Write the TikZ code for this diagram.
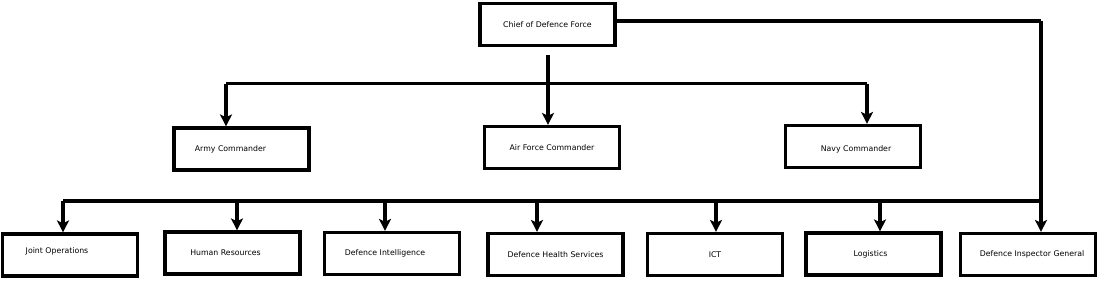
\documentclass[tikz,border=0pt]{standalone}
\usepackage{fontspec}
\setmainfont{DejaVu Sans}
\usetikzlibrary{arrows.meta}
\begin{document}
\begin{tikzpicture}[x=1pt,y=-1pt,
  box/.style={draw, line width=3.2pt, minimum width=135pt, minimum height=42pt, inner sep=0pt},
  lbl/.style={font=\fontsize{7.8}{9}\selectfont},
  conn/.style={line width=3.2pt},
  arr/.style={conn, -{Stealth[length=12pt,width=12pt,inset=3pt]}}]
\useasboundingbox (0,0) rectangle (1100,281);
% top level
\node[box, label={[lbl]center:Chief of Defence Force}] (chief) at (547.5,24.5) {};
% commanders
\node[box, label={[lbl,xshift=-11pt]center:Army Commander}] (army) at (241.5,149) {};
\node[box, label={[lbl]center:Air Force Commander}] (air) at (552,147.5) {};
\node[box, label={[lbl,xshift=3pt,yshift=-3pt]center:Navy Commander}] (navy) at (853,146.5) {};
% bottom row
\node[box, label={[lbl,xshift=-13pt,yshift=4pt]center:Joint Operations}] (jo) at (70,255) {};
\node[box, label={[lbl,xshift=-7pt]center:Human Resources}] (hr) at (232.5,253) {};
\node[box, label={[lbl,xshift=-7pt]center:Defence Intelligence}] (di) at (392,253.5) {};
\node[box, label={[lbl]center:Defence Health Services}] (dh) at (555.5,254.5) {};
\node[box, label={[lbl]center:ICT}] (ict) at (715,254.5) {};
\node[box, label={[lbl,xshift=-3pt]center:Logistics}] (log) at (873.5,254) {};
\node[box, label={[lbl,xshift=4pt]center:Defence Inspector General}] (dig) at (1028,254.5) {};
% coordinates for bus lines
\coordinate (stem) at (548,55);
\coordinate (busA) at (226,83.5);
\coordinate (busN) at (867,83.5);
\coordinate (corner) at (1041,21);
\coordinate (busB) at (63,201);
\coordinate (busE) at (1041,201);
% chief to commanders
\draw[arr] (stem) -- (air.north -| stem);
\draw[conn] (busA) -- (busN);
\draw[arr] (busA) -- (army.north -| busA);
\draw[arr] (busN) -- (navy.north -| busN);
% chief to inspector general and bottom bus
\draw[conn] (chief.east |- corner) -- (corner);
\draw[arr] (corner) -- (dig.north -| corner);
\draw[conn] (busB) -- (busE);
\draw[arr] (busB) -- (jo.north -| busB);
\draw[arr] (237,201) -- (hr.north -| 237,0);
\draw[arr] (385,201) -- (di.north -| 385,0);
\draw[arr] (537,201) -- (dh.north -| 537,0);
\draw[arr] (716,201) -- (ict.north -| 716,0);
\draw[arr] (880,201) -- (log.north -| 880,0);
\end{tikzpicture}
\end{document}
